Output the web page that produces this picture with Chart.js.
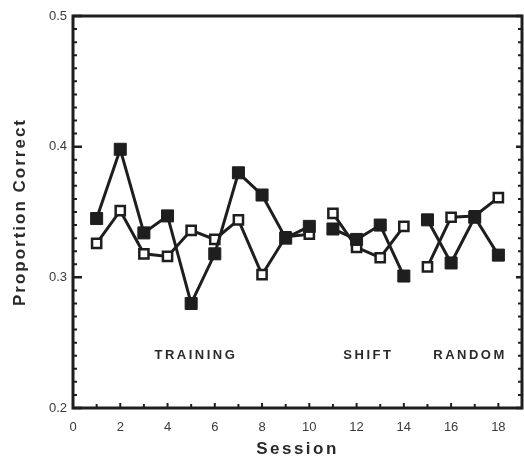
<!DOCTYPE html>
<html>
<head>
<meta charset="utf-8">
<script src="https://cdn.jsdelivr.net/npm/chart.js@4"></script>
<style>
  html, body { margin: 0; padding: 0; background: #fff; }
  #wrap { width: 524px; height: 458px; }
</style>
</head>
<body>
<div id="wrap"><canvas id="sessionChart" width="524" height="458"></canvas></div>
<script>
// Session numbers and proportion correct for the two conditions
const sessions = [1, 2, 3, 4, 5, 6, 7, 8, 9, 10, 11, 12, 13, 14, 15, 16, 17, 18];
const filledValues = [0.345, 0.398, 0.334, 0.347, 0.280, 0.318, 0.380, 0.363, 0.330, 0.339,
                      0.337, 0.329, 0.340, 0.301, 0.344, 0.311, 0.346, 0.317];
const openValues = [0.326, 0.351, 0.318, 0.316, 0.336, 0.329, 0.344, 0.302, 0.331, 0.333,
                    0.349, 0.323, 0.315, 0.339, 0.308, 0.346, 0.347, 0.361];
// line is broken after these sessions (phase boundaries)
const breakAfter = [10, 14];

const phaseNames = ['TRAINING', 'SHIFT', 'RANDOM'];
const phaseCenters = [5.2, 12.5, 16.8];
const phaseLevel = 0.24;

const ink = '#1e1e1e';

const toPoints = (vals) => sessions.map((s, i) => ({ x: s, y: vals[i] }));
const segmentColor = (ctx) => breakAfter.includes(ctx.p0.parsed.x) ? 'rgba(0,0,0,0)' : ink;

// frame, inward ticks, axis titles and phase labels
const decorations = {
  id: 'decorations',
  afterDraw(chart) {
    const { ctx, chartArea: a, scales: { x, y } } = chart;
    ctx.save();
    ctx.strokeStyle = ink;
    ctx.lineCap = 'butt';

    // ticks on the y axes
    for (let k = 20; k <= 50; k++) {
      const v = k / 100;
      const py = y.getPixelForValue(v);
      const major = k % 10 === 0;
      ctx.lineWidth = major ? 2.5 : 2;
      ctx.beginPath();
      ctx.moveTo(a.left, py);
      ctx.lineTo(a.left + (major ? 9 : 4), py);
      ctx.moveTo(a.right, py);
      ctx.lineTo(a.right - (major ? 6 : 4), py);
      ctx.stroke();
    }
    // ticks on the x axis
    for (let s = 1; s <= 18; s++) {
      const px = x.getPixelForValue(s);
      ctx.lineWidth = 2;
      ctx.beginPath();
      ctx.moveTo(px, a.bottom);
      ctx.lineTo(px, a.bottom - (s % 2 === 0 ? 5 : 4));
      ctx.stroke();
    }

    // frame
    ctx.lineWidth = 3;
    ctx.strokeRect(a.left, a.top, a.right - a.left, a.bottom - a.top);

    // phase labels
    ctx.fillStyle = '#2a2a2a';
    ctx.font = 'bold 13px "Liberation Sans", Arial, sans-serif';
    ctx.letterSpacing = '2.5px';
    ctx.textAlign = 'center';
    ctx.textBaseline = 'middle';
    phaseNames.forEach((name, i) => {
      ctx.fillText(name, x.getPixelForValue(phaseCenters[i]), y.getPixelForValue(phaseLevel));
    });

    // axis titles
    ctx.font = 'bold 17px "Liberation Sans", Arial, sans-serif';
    ctx.letterSpacing = '2.5px';
    ctx.textBaseline = 'alphabetic';
    ctx.fillText('Session', (a.left + a.right) / 2, 454);

    ctx.letterSpacing = '2px';
    ctx.translate(25, (a.top + a.bottom) / 2);
    ctx.rotate(-Math.PI / 2);
    ctx.fillText('Proportion Correct', 0, 0);
    ctx.restore();
  }
};

new Chart(document.getElementById('sessionChart'), {
  type: 'line',
  data: {
    datasets: [
      {
        label: 'filled',
        data: toPoints(filledValues),
        order: 0,
        borderColor: ink,
        borderWidth: 3,
        pointStyle: 'rect',
        pointRadius: 8.5,
        pointBackgroundColor: ink,
        pointBorderColor: ink,
        pointBorderWidth: 1,
        segment: { borderColor: segmentColor },
      },
      {
        label: 'open',
        data: toPoints(openValues),
        order: 1,
        borderColor: ink,
        borderWidth: 3,
        pointStyle: 'rect',
        pointRadius: 6.5,
        pointBackgroundColor: '#fff',
        pointBorderColor: ink,
        pointBorderWidth: 2.5,
        segment: { borderColor: segmentColor },
      },
    ],
  },
  options: {
    responsive: false,
    animation: false,
    layout: { autoPadding: false, padding: { left: 0, top: 16, right: 2, bottom: 0 } },
    plugins: { legend: { display: false }, tooltip: { enabled: false } },
    scales: {
      x: {
        type: 'linear',
        min: 0,
        max: 19,
        // grid hidden; tickLength only pushes the labels down
        grid: { display: false, drawTicks: true, tickLength: 12 },
        border: { display: false },
        afterFit: (scale) => { scale.height = 50; },
        ticks: {
          stepSize: 1,
          autoSkip: false,
          maxRotation: 0,
          padding: 0,
          color: '#3a3a3a',
          font: { family: '"Liberation Sans", Arial, sans-serif', size: 13 },
          callback: (v) => (v % 2 === 0 ? String(v) : ''),
        },
      },
      y: {
        min: 0.2,
        max: 0.5,
        grid: { display: false, drawTicks: false },
        border: { display: false },
        afterFit: (scale) => { scale.width = 73; },
        ticks: {
          stepSize: 0.01,
          autoSkip: false,
          padding: 6,
          color: '#3a3a3a',
          font: { family: '"Liberation Sans", Arial, sans-serif', size: 13 },
          callback: (v) => (Math.abs(v * 10 - Math.round(v * 10)) < 1e-6 ? v.toFixed(1) : ''),
        },
      },
    },
  },
  plugins: [decorations],
});
</script>
</body>
</html>
